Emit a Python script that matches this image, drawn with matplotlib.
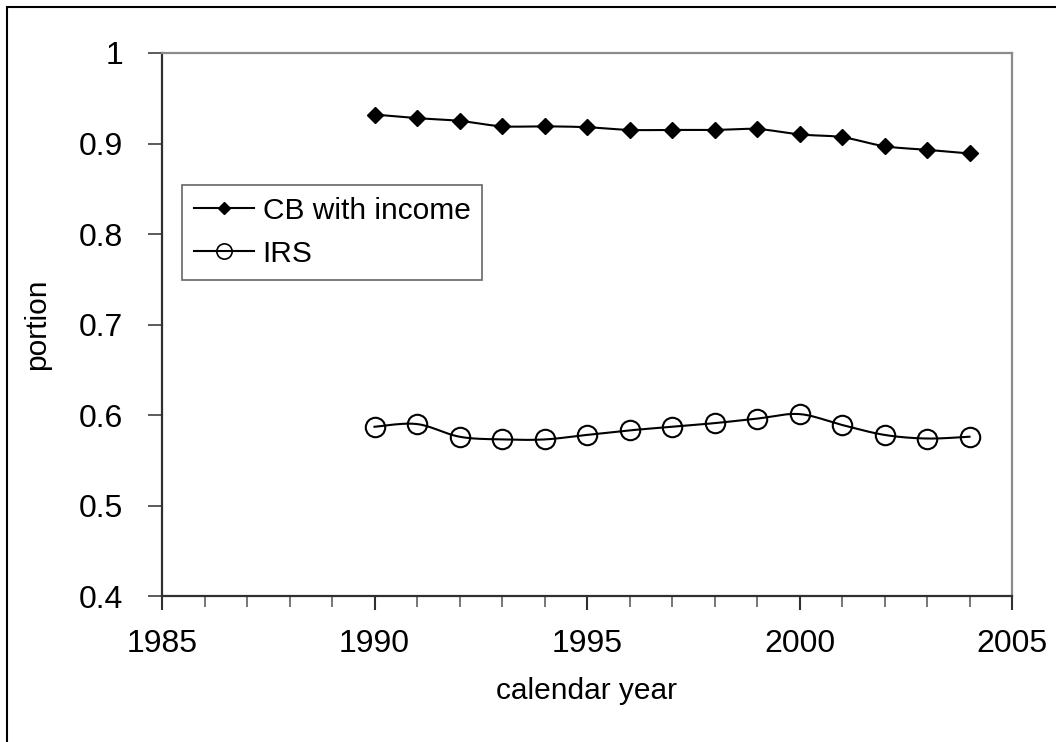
import numpy as np
import matplotlib
matplotlib.use("Agg")
import matplotlib.pyplot as plt
from matplotlib.patches import Rectangle
from matplotlib.ticker import MultipleLocator

plt.rcParams['font.family'] = ['Liberation Sans', 'DejaVu Sans']

# data
years = [1990, 1991, 1992, 1993, 1994, 1995, 1996, 1997, 1998, 1999, 2000, 2001, 2002, 2003, 2004]
cb_income = [0.932, 0.928, 0.925, 0.919, 0.919, 0.918, 0.915, 0.915, 0.915, 0.916, 0.910, 0.907, 0.897, 0.893, 0.889]
irs = [0.587, 0.590, 0.576, 0.573, 0.573, 0.578, 0.583, 0.587, 0.591, 0.596, 0.601, 0.589, 0.578, 0.574, 0.576]


# Excel-like smoothed line (Catmull-Rom through the points)
def smooth(x, y, n=20):
    x = np.asarray(x, float)
    y = np.asarray(y, float)
    px = np.concatenate([[x[0]], x, [x[-1]]])
    py = np.concatenate([[y[0]], y, [y[-1]]])
    xs, ys = [], []
    t = np.linspace(0, 1, n)
    for i in range(1, len(px) - 2):
        p0, p1, p2, p3 = [np.array([px[j], py[j]]) for j in (i - 1, i, i + 1, i + 2)]
        c1 = p1 + (p2 - p0) / 6
        c2 = p2 - (p3 - p1) / 6
        pts = ((1 - t) ** 3)[:, None] * p1 + (3 * (1 - t) ** 2 * t)[:, None] * c1 \
            + (3 * (1 - t) * t ** 2)[:, None] * c2 + (t ** 3)[:, None] * p2
        xs.extend(pts[:, 0])
        ys.extend(pts[:, 1])
    return xs, ys


fs_tick = 23
fs_text = 21.5

fig = plt.figure(figsize=(10.56, 7.42), dpi=100)
ax = fig.add_axes([162 / 1056, 1 - 596 / 742, 850 / 1056, 543 / 742])

sx, sy = smooth(years, cb_income)
ax.plot(sx, sy, color='black', lw=1.5)
ax.plot(years, cb_income, ls='none', marker='D', ms=8.5, color='black')
sx, sy = smooth(years, irs)
ax.plot(sx, sy, color='black', lw=1.5)
ax.plot(years, irs, ls='none', marker='o', ms=14, mfc='none', mec='black', mew=1.5)

# legend proxies
ax.plot([], [], color='black', lw=1.5, marker='D', ms=6, label='CB with income')
ax.plot([], [], color='black', lw=1.5, marker='o', ms=11, mfc='none', mew=1.2, label='IRS')
handles, labels = ax.get_legend_handles_labels()
leg = ax.legend(handles[-2:], labels[-2:], loc='upper left', bbox_to_anchor=(20 / 850, (596 - 185) / 543),
                fontsize=fs_text, frameon=True, fancybox=False, edgecolor='#404040', handlelength=2.0,
                handletextpad=0.3, borderpad=0.4, labelspacing=0.5, borderaxespad=0)
leg.get_frame().set_linewidth(1.2)

ax.set_xlim(1985, 2005)
ax.set_ylim(0.4, 1.0)
ax.xaxis.set_major_locator(MultipleLocator(5))
ax.xaxis.set_minor_locator(MultipleLocator(1))
ax.set_yticks([0.4, 0.5, 0.6, 0.7, 0.8, 0.9, 1.0])
ax.set_yticklabels(['0.4', '0.5', '0.6', '0.7', '0.8', '0.9', '1'])

ax.tick_params(axis='x', which='major', direction='out', length=10, width=1.5, pad=14, labelsize=fs_tick, colors='#303030', labelcolor='black')
ax.tick_params(axis='x', which='minor', direction='out', length=8, width=1.2, colors='#606060')
ax.tick_params(axis='y', which='major', direction='out', length=10, width=1.2, pad=18, labelsize=fs_tick, colors='#404040', labelcolor='black')

for s in ['left', 'bottom']:
    ax.spines[s].set_color('#303030')
    ax.spines[s].set_linewidth(1.6)
for s in ['top', 'right']:
    ax.spines[s].set_color('#8a8a8a')
    ax.spines[s].set_linewidth(1.6)

ax.set_xlabel('calendar year', fontsize=fs_text, labelpad=13)
ax.set_ylabel('portion', fontsize=fs_text, labelpad=20)

# outer chart border (cut off on the right and bottom)
fig.patches.append(Rectangle((7 / 1056, -0.05), 1.1, 1.05 - 7 / 742, transform=fig.transFigure,
                             fill=False, edgecolor='black', lw=1.5))

fig.savefig('out.png', dpi=100)
